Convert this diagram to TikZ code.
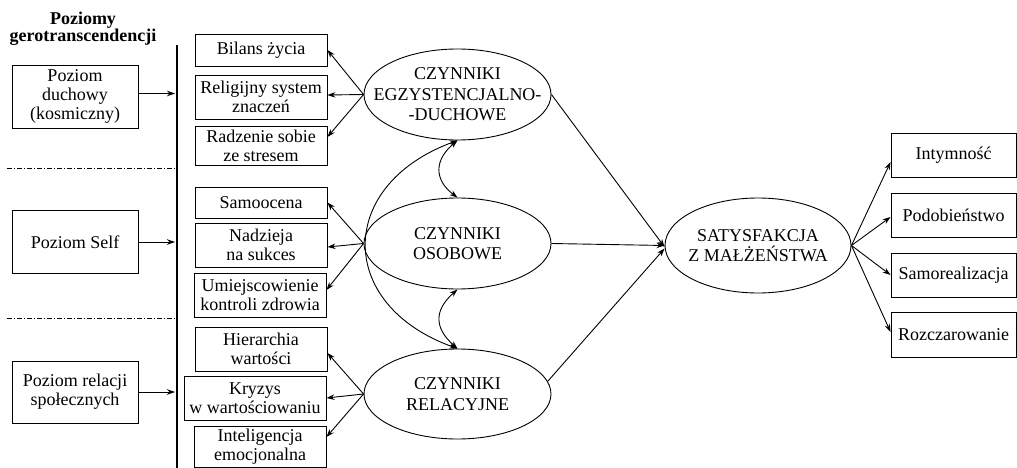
\documentclass[tikz,border=0pt]{standalone}
\usepackage{fontspec}
\setmainfont{Liberation Serif}
\newfontfamily\serf{Liberation Serif}
\usetikzlibrary{shapes.geometric,arrows.meta}
\begin{document}
\begin{tikzpicture}[x=1pt,y=-1pt,
  font=\serf\fontsize{18}{19}\selectfont,
  box/.style={draw,line width=0.9pt,rectangle,inner sep=0pt,align=center},
  ell/.style={draw,line width=0.9pt,ellipse,inner sep=0pt},
  etxt/.style={align=center,inner sep=0pt,font=\serf\fontsize{18}{20.5}\selectfont},
  con/.style={line width=0.9pt,-{Stealth[length=8pt,width=5.5pt]}},
  dcon/.style={line width=0.9pt,{Stealth[length=8pt,width=5.5pt]}-{Stealth[length=8pt,width=5.5pt]}},
  sep/.style={line width=0.6pt,dash pattern=on 5pt off 2pt on 1pt off 2pt}
]
\useasboundingbox (0,0) rectangle (1017,468);

% title
\node[font=\serf\fontsize{18}{16}\selectfont\bfseries,align=center] (title) at (83,29) {Poziomy\\gerotranscendencji};

% vertical line
\coordinate (vt) at (177,45);
\coordinate (vb) at (177,468);
\draw[line width=2.2pt] (vt) -- (vb);

% separators
\coordinate (s1a) at (7,168);
\coordinate (s1b) at (175,168);
\coordinate (s2a) at (7,318);
\coordinate (s2b) at (175,318);
\draw[sep] (s1a) -- (s1b);
\draw[sep] (s2a) -- (s2b);

% left level boxes
\node[box,minimum width=126pt,minimum height=63pt] (pd) at (75,96.5) {Poziom\\duchowy\\(kosmiczny)};
\node[box,minimum width=126pt,minimum height=63pt] (ps) at (75,242) {Poziom Self};
\node[box,minimum width=126pt,minimum height=62pt] (pr) at (75,392) {Poziom relacji\\społecznych};

\coordinate (ad) at (175,93.5);
\coordinate (as) at (175,242);
\coordinate (ar) at (175,392);
\draw[con] (pd.east |- ad) -- (ad);
\draw[con] (ps.east) -- (as);
\draw[con] (pr.east) -- (ar);

% middle boxes
\node[box,minimum width=132pt,minimum height=32pt] (bil) at (261,50) {Bilans życia};
\node[box,minimum width=132pt,minimum height=44pt] (rel) at (261,97) {Religijny system\\znaczeń};
\node[box,minimum width=132pt,minimum height=39pt] (rad) at (261,145.5) {Radzenie sobie\\ze stresem};
\node[box,minimum width=132pt,minimum height=31pt] (sam) at (261,202.5) {Samoocena};
\node[box,minimum width=132pt,minimum height=44pt] (nad) at (261,245) {Nadzieja\\na sukces};
\node[box,minimum width=132pt,minimum height=44pt] (umi) at (260,295) {Umiejscowienie\\kontroli zdrowia};
\node[box,minimum width=132pt,minimum height=44pt] (hie) at (261,349) {Hierarchia\\wartości};
\node[box,minimum width=142pt,minimum height=44pt] (kry) at (255,398) {Kryzys\\w wartościowaniu};
\node[box,minimum width=132pt,minimum height=41pt] (intl) at (260,446.5) {Inteligencja\\emocjonalna};

% ellipses
\node[ell,minimum width=187pt,minimum height=91pt] (egz) at (457.5,94.5) {};
\node[etxt] (egzt) at (egz.center) {CZYNNIKI\\EGZYSTENCJALNO-\\-DUCHOWE};
\node[ell,minimum width=187pt,minimum height=91pt] (oso) at (457.5,243.5) {};
\node[etxt] (osot) at (oso.center) {CZYNNIKI\\OSOBOWE};
\node[ell,minimum width=187pt,minimum height=90pt] (rlc) at (457.5,394) {};
\node[etxt] (rlct) at (rlc.center) {CZYNNIKI\\RELACYJNE};
\node[ell,minimum width=186pt,minimum height=95pt] (sat) at (758,245.5) {};
\node[etxt] (satt) at (sat.center) {SATYSFAKCJA\\Z MAŁŻEŃSTWA};

% right boxes
\node[box,minimum width=125pt,minimum height=44pt] (inty) at (953.5,155) {Intymność};
\node[box,minimum width=125pt,minimum height=44pt] (podo) at (953.5,215) {Podobieństwo};
\node[box,minimum width=125pt,minimum height=44pt] (samr) at (953.5,275) {Samorealizacja};
\node[box,minimum width=125pt,minimum height=45pt] (rozc) at (953.5,334.5) {Rozczarowanie};

% ellipse -> middle boxes
\draw[con] (egz.west) -- (bil.east);
\draw[con] (egz.west) -- ([yshift=2pt]rel.east);
\draw[con] (egz.west) -- ([yshift=8.5pt]rad.east);
\draw[con] (oso.west) -- (sam.east);
\draw[con] (oso.west) -- ([yshift=-2pt]nad.east);
\draw[con] (oso.west) -- ([yshift=5pt]umi.east);
\draw[con] (rlc.west) -- ([yshift=-4pt]hie.east);
\draw[con] (rlc.west) -- (kry.east);
\draw[con] (rlc.west) -- ([yshift=9.5pt]intl.east);

% ellipses -> satisfaction
\draw[con] (egz.east) -- ([yshift=-1.5pt]sat.west);
\draw[con] (oso.east) -- (sat.west);
\draw[con] (rlc.8) -- ([yshift=-3pt]sat.west);

% satisfaction -> right boxes
\draw[con] (sat.east) -- ([yshift=-7pt]inty.west);
\draw[con] (sat.east) -- ([yshift=-2pt]podo.west);
\draw[con] (sat.east) -- (samr.west);
\draw[con] (sat.east) -- ([yshift=2.5pt]rozc.west);

% correlations
\draw[dcon] (egz.south) .. controls (434,160) and (434,180) .. (oso.north);
\draw[dcon] (oso.south) .. controls (434,310) and (434,328) .. (rlc.north);
\draw[dcon] (egz.south) .. controls (336,185) and (336,305) .. (rlc.north);
\end{tikzpicture}
\end{document}
